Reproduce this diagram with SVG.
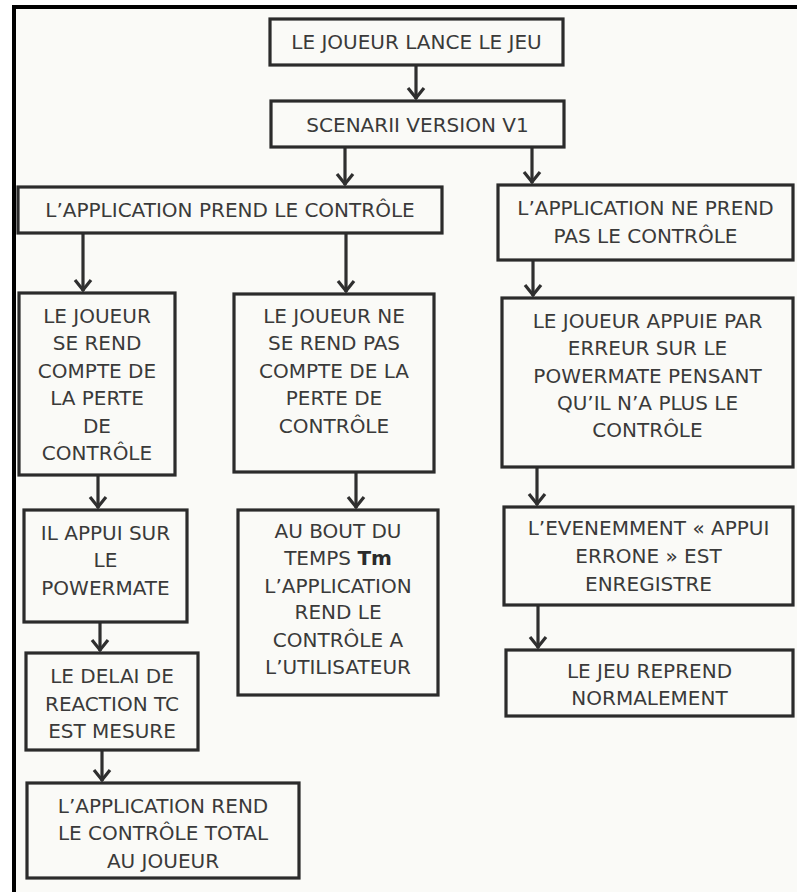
<svg xmlns="http://www.w3.org/2000/svg" width="797" height="892" viewBox="0 0 797 892">
  <defs>
    <style>
      .box { fill: none; stroke: #2b2b2b; stroke-width: 3.2; }
      .t { font-family: "DejaVu Sans", Verdana, sans-serif; font-size: 20px; fill: #3a3a3a; text-anchor: middle; }
      .b { font-weight: bold; fill: #2b2b2b; }
      .edge { fill: none; stroke: #2f2f2f; stroke-width: 3.2; marker-end: url(#head); }
      .frame { stroke: #000; stroke-width: 4; }
    </style>
    <marker id="head" viewBox="-14 -10 16 20" refX="0" refY="0" markerWidth="16" markerHeight="20" markerUnits="userSpaceOnUse" orient="auto">
      <path d="M-11,-8 L-1,0 L-11,8" fill="none" stroke="#2f2f2f" stroke-width="3.2" stroke-linejoin="miter"/>
    </marker>
  </defs>

  <rect width="797" height="892" fill="#fafaf7"/>
  <rect x="0" y="0" width="797" height="5" fill="#ffffff"/>
  <rect x="0" y="0" width="12" height="892" fill="#ffffff"/>
  <line class="frame" x1="12" y1="7" x2="797" y2="7"/>
  <line class="frame" x1="14" y1="5" x2="14" y2="892"/>

  <g id="connectors">
    <line class="edge" x1="416" y1="65" x2="416" y2="99"/>
    <line class="edge" x1="345" y1="147" x2="345" y2="185"/>
    <line class="edge" x1="532" y1="147" x2="532" y2="183"/>
    <line class="edge" x1="83" y1="233" x2="83" y2="291"/>
    <line class="edge" x1="346" y1="233" x2="346" y2="292"/>
    <line class="edge" x1="533" y1="260" x2="533" y2="296"/>
    <line class="edge" x1="98" y1="475" x2="98" y2="508"/>
    <line class="edge" x1="356" y1="472" x2="356" y2="508"/>
    <line class="edge" x1="537" y1="467" x2="537" y2="505"/>
    <line class="edge" x1="100" y1="622" x2="100" y2="651"/>
    <line class="edge" x1="102" y1="750" x2="102" y2="781"/>
    <line class="edge" x1="538" y1="605" x2="538" y2="648"/>
  </g>

  <g id="start">
    <rect class="box" x="270" y="19" width="293" height="46"/>
    <text class="t" x="416.5" y="49">LE JOUEUR LANCE LE JEU</text>
  </g>

  <g id="scenario">
    <rect class="box" x="271" y="101" width="293" height="46"/>
    <text class="t" x="417.5" y="132">SCENARII VERSION V1</text>
  </g>

  <g id="app-takes-control">
    <rect class="box" x="18" y="187" width="424" height="46"/>
    <text class="t" x="230" y="217">L’APPLICATION PREND LE CONTRÔLE</text>
  </g>

  <g id="app-no-control">
    <rect class="box" x="498" y="185" width="295" height="75"/>
    <text class="t" x="645.5" y="215">L’APPLICATION NE PREND</text>
    <text class="t" x="645.5" y="243">PAS LE CONTRÔLE</text>
  </g>

  <g id="player-notices">
    <rect class="box" x="19" y="293" width="156" height="182"/>
    <text class="t" x="97" y="323">LE JOUEUR</text>
    <text class="t" x="97" y="350">SE REND</text>
    <text class="t" x="97" y="378">COMPTE DE</text>
    <text class="t" x="97" y="405">LA PERTE</text>
    <text class="t" x="97" y="433">DE</text>
    <text class="t" x="97" y="460">CONTRÔLE</text>
  </g>

  <g id="player-unaware">
    <rect class="box" x="234" y="294" width="200" height="178"/>
    <text class="t" x="334" y="323">LE JOUEUR NE</text>
    <text class="t" x="334" y="350">SE REND PAS</text>
    <text class="t" x="334" y="378">COMPTE DE LA</text>
    <text class="t" x="334" y="405">PERTE DE</text>
    <text class="t" x="334" y="433">CONTRÔLE</text>
  </g>

  <g id="player-presses-by-mistake">
    <rect class="box" x="502" y="298" width="291" height="169"/>
    <text class="t" x="647.5" y="328">LE JOUEUR APPUIE PAR</text>
    <text class="t" x="647.5" y="355">ERREUR SUR LE</text>
    <text class="t" x="647.5" y="383">POWERMATE PENSANT</text>
    <text class="t" x="647.5" y="410">QU’IL N’A PLUS LE</text>
    <text class="t" x="647.5" y="437">CONTRÔLE</text>
  </g>

  <g id="presses-powermate">
    <rect class="box" x="24" y="510" width="163" height="112"/>
    <text class="t" x="105.5" y="540">IL APPUI SUR</text>
    <text class="t" x="105.5" y="567">LE</text>
    <text class="t" x="105.5" y="595">POWERMATE</text>
  </g>

  <g id="reaction-time">
    <rect class="box" x="26" y="653" width="172" height="97"/>
    <text class="t" x="112" y="683">LE DELAI DE</text>
    <text class="t" x="112" y="711">REACTION TC</text>
    <text class="t" x="112" y="738">EST MESURE</text>
  </g>

  <g id="full-control-back">
    <rect class="box" x="27" y="783" width="272" height="95"/>
    <text class="t" x="163" y="813">L’APPLICATION REND</text>
    <text class="t" x="163" y="840">LE CONTRÔLE TOTAL</text>
    <text class="t" x="163" y="868">AU JOUEUR</text>
  </g>

  <g id="timeout-return">
    <rect class="box" x="238" y="510" width="200" height="185"/>
    <text class="t" x="338" y="538">AU BOUT DU</text>
    <text class="t" x="338" y="565">TEMPS <tspan class="b">Tm</tspan></text>
    <text class="t" x="338" y="593">L’APPLICATION</text>
    <text class="t" x="338" y="619">REND LE</text>
    <text class="t" x="338" y="647">CONTRÔLE A</text>
    <text class="t" x="338" y="674">L’UTILISATEUR</text>
  </g>

  <g id="error-logged">
    <rect class="box" x="504" y="507" width="289" height="98"/>
    <text class="t" x="648.5" y="535">L’EVENEMMENT « APPUI</text>
    <text class="t" x="648.5" y="563">ERRONE » EST</text>
    <text class="t" x="648.5" y="591">ENREGISTRE</text>
  </g>

  <g id="game-resumes">
    <rect class="box" x="506" y="650" width="287" height="66"/>
    <text class="t" x="649.5" y="678">LE JEU REPREND</text>
    <text class="t" x="649.5" y="705">NORMALEMENT</text>
  </g>
</svg>
